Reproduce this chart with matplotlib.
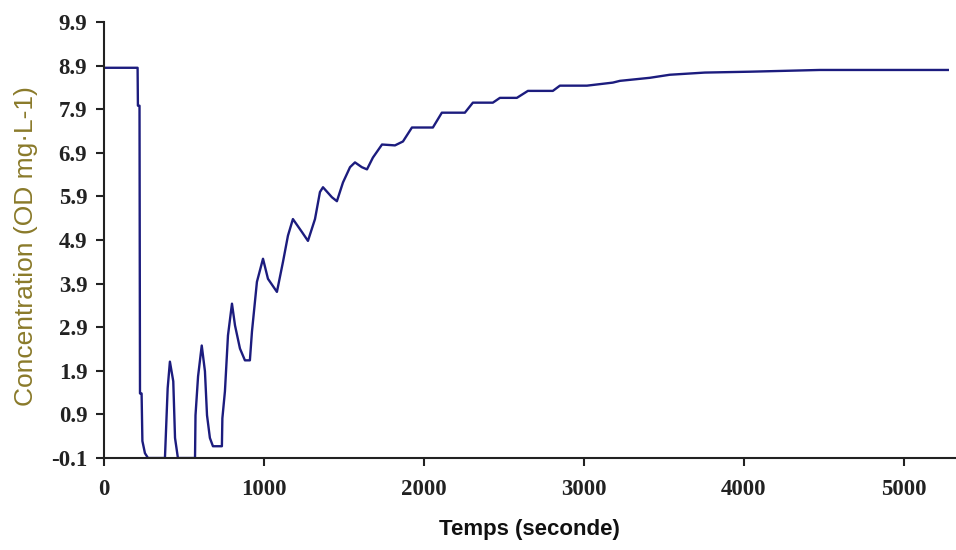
import matplotlib
matplotlib.use("Agg")
import matplotlib.pyplot as plt

# Data (time in s, concentration in mg/L)
time_s = [0, 210, 212, 222, 225, 235, 240, 256, 275,
          381, 398, 412, 433, 444, 462,
          569, 572, 588, 611, 631, 644, 662, 681, 737,
          740, 756, 775, 800, 819, 850, 881, 912,
          925, 956, 994, 1025, 1081, 1119, 1150, 1181, 1238, 1275,
          1319, 1350, 1369, 1425, 1456, 1494, 1538, 1569, 1612, 1644,
          1681, 1738, 1819, 1869, 1925, 2056, 2112, 2256, 2306, 2431,
          2475, 2581, 2650, 2806, 2850, 3019, 3181, 3225, 3412, 3537,
          3756, 4037, 4475, 5275]
conc = [8.85, 8.85, 7.98, 7.98, 1.38, 1.38, 0.29, 0.01, -0.1,
        -0.1, 1.5, 2.11, 1.66, 0.36, -0.1,
        -0.1, 0.88, 1.77, 2.48, 1.89, 0.88, 0.36, 0.17, 0.17,
        0.81, 1.43, 2.71, 3.44, 2.94, 2.41, 2.14, 2.14,
        2.8, 3.94, 4.47, 4.01, 3.71, 4.4, 5.0, 5.38, 5.08, 4.88,
        5.38, 6.0, 6.11, 5.88, 5.79, 6.22, 6.57, 6.68, 6.57, 6.52,
        6.79, 7.09, 7.07, 7.16, 7.48, 7.48, 7.82, 7.82, 8.05, 8.05,
        8.16, 8.16, 8.32, 8.32, 8.44, 8.44, 8.51, 8.55, 8.62, 8.69,
        8.74, 8.76, 8.8, 8.8]

x_ticks = [0, 1000, 2000, 3000, 4000, 5000]
y_ticks = [-0.1, 0.9, 1.9, 2.9, 3.9, 4.9, 5.9, 6.9, 7.9, 8.9, 9.9]
y_tick_labels = ["-0.1", "0.9", "1.9", "2.9", "3.9", "4.9", "5.9", "6.9", "7.9", "8.9", "9.9"]

fig = plt.figure(figsize=(9.56, 5.5), dpi=100)
ax = fig.add_axes([104 / 956, 1 - 458 / 550, (955 - 104) / 956, (458 - 22) / 550])

ax.plot(time_s, conc, color="#1c1c7e", linewidth=1.7)

ax.set_xlim(0, 5320)
ax.set_ylim(-0.1, 9.9)
ax.set_xticks(x_ticks)
ax.set_yticks(y_ticks)
ax.set_yticklabels(y_tick_labels)

for s in ["top", "right"]:
    ax.spines[s].set_visible(False)
for s in ["left", "bottom"]:
    ax.spines[s].set_linewidth(1.5)
    ax.spines[s].set_color("#222222")

ax.tick_params(axis="both", direction="out", length=6, width=1.5, color="#222222")
for lab in ax.get_xticklabels() + ax.get_yticklabels():
    lab.set_fontfamily("Liberation Serif")
    lab.set_fontweight("bold")
    lab.set_fontsize(16.5)
    lab.set_color("#222222")
ax.tick_params(axis="x", pad=9)
ax.tick_params(axis="y", pad=6)

ax.set_xlabel("Temps (seconde)", fontfamily="Liberation Sans", fontweight="bold",
              fontsize=16, labelpad=14, color="#111111")
ax.set_ylabel("Concentration (OD mg·L-1)", fontfamily="Liberation Sans",
              fontsize=19, color="#8a7a2a")
ax.yaxis.set_label_coords(-0.078, 0.485)

fig.savefig("out.png", dpi=100)
